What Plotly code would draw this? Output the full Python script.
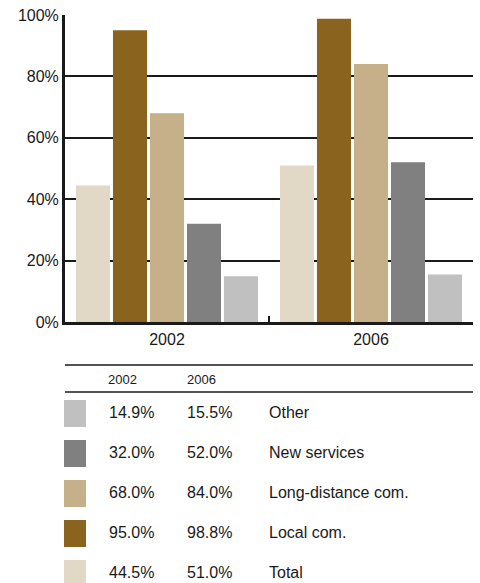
import plotly.graph_objects as go

# ---- data ----
years = ["2002", "2006"]
series = ["Total", "Local com.", "Long-distance com.", "New services", "Other"]
values_2002 = [44.5, 95.0, 68.0, 32.0, 14.9]
values_2006 = [51.0, 98.8, 84.0, 52.0, 15.5]
colors = ["#E1D9C6", "#8A641F", "#C6B08A", "#808080", "#C0C0C0"]
y_ticks = [0, 20, 40, 60, 80, 100]
y_tick_labels = ["0%", "20%", "40%", "60%", "80%", "100%"]

W, H = 480, 583
FONT = "Liberation Sans, Arial, Helvetica, sans-serif"
INK = "#1a1a1a"


def px(x):
    return x / W


def py(y):
    return 1 - y / H


fig = go.Figure()
for name, v02, v06, c in zip(series, values_2002, values_2006, colors):
    fig.add_trace(go.Bar(
        x=years, y=[v02, v06], name=name,
        marker=dict(color=c, line=dict(width=0)),
        hoverinfo="skip",
    ))

fig.update_layout(
    width=W, height=H,
    margin=dict(l=0, r=0, t=0, b=0, autoexpand=False),
    paper_bgcolor="white", plot_bgcolor="white",
    showlegend=False,
    barmode="group", bargap=0.093, bargroupgap=0.08,
    font=dict(family=FONT, size=16, color=INK),
    xaxis=dict(
        domain=[px(65), px(473)],
        type="category", automargin=False,
        showline=True, linecolor=INK, linewidth=3,
        ticks="inside", tickson="boundaries", ticklen=6, tickwidth=2,
        tickcolor=INK, showgrid=False,
        tickfont=dict(size=16, color=INK),
        ticklabelstandoff=1,
    ),
    yaxis=dict(
        domain=[py(322), py(15)],
        range=[0, 100], automargin=False,
        tickvals=y_ticks, ticktext=y_tick_labels,
        showline=True, linecolor=INK, linewidth=3,
        showgrid=True, gridcolor=INK, gridwidth=2,
        zeroline=False, ticks="",
        tickfont=dict(size=16, color=INK),
        ticklabelstandoff=0,
    ),
)

# ---- data table beneath the chart ----
shapes = []
annotations = []
for y in (365, 392):
    shapes.append(dict(type="line", xref="paper", yref="paper",
                       x0=px(65), x1=px(473), y0=py(y), y1=py(y),
                       line=dict(color=INK, width=1.5)))

for label, x in zip(years, (106, 185)):
    annotations.append(dict(text=label, xref="paper", yref="paper",
                            x=px(x), y=py(379), xanchor="left", yanchor="middle",
                            showarrow=False, font=dict(size=13, color=INK)))

row_order = list(range(len(series)))[::-1]
for r, i in enumerate(row_order):
    top = 400 + 40 * r
    shapes.append(dict(type="rect", xref="paper", yref="paper",
                       x0=px(64), x1=px(86), y0=py(top), y1=py(top + 27),
                       fillcolor=colors[i], line=dict(width=0)))
    cy = top + 12
    for text, x in ((f"{values_2002[i]:.1f}%", 107),
                    (f"{values_2006[i]:.1f}%", 185),
                    (series[i], 267)):
        annotations.append(dict(text=text, xref="paper", yref="paper",
                                x=px(x), y=py(cy), xanchor="left", yanchor="middle",
                                showarrow=False, font=dict(size=16, color=INK)))

fig.update_layout(shapes=shapes, annotations=annotations)
fig.write_html("out.html")
